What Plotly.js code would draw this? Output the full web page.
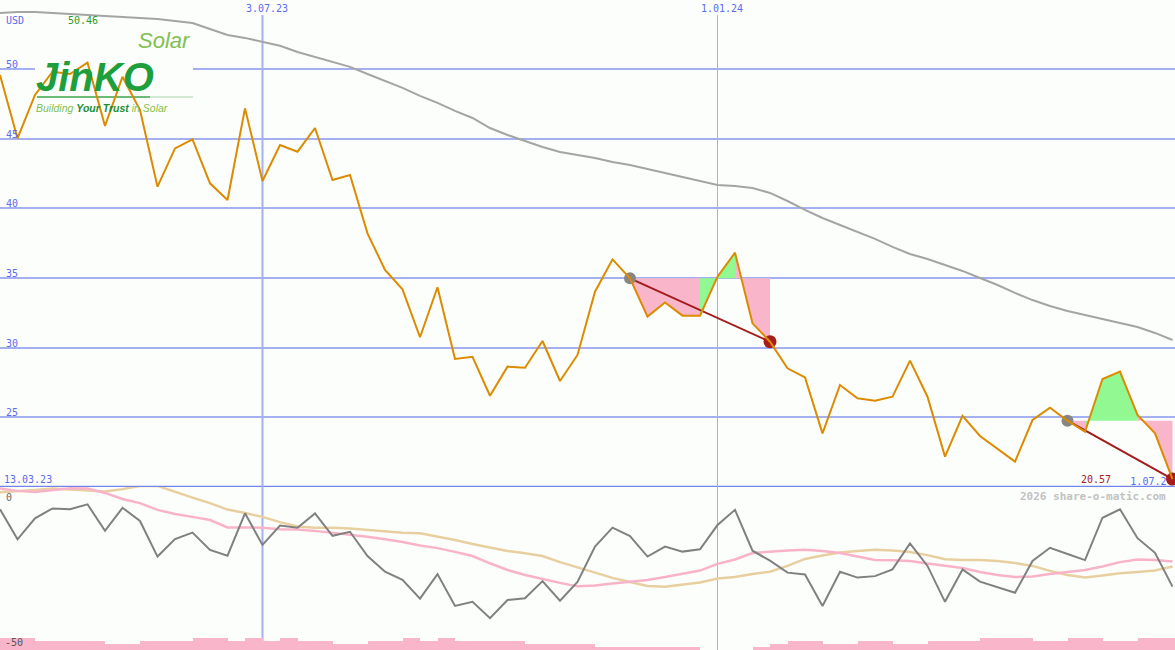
<!DOCTYPE html>
<html><head><meta charset="utf-8">
<script src="https://cdn.plot.ly/plotly-3.0.1.min.js"></script>
<style>html,body{margin:0;padding:0;background:#fcfefc;overflow:hidden}#chart{width:1175px;height:650px}</style>
</head><body><div id="chart"></div>
<script>
// ---------- data ----------
const dates = ['2023-03-20','2023-03-27','2023-04-03','2023-04-10','2023-04-17','2023-04-24','2023-05-01','2023-05-08','2023-05-15','2023-05-22',
'2023-05-29','2023-06-05','2023-06-12','2023-06-19','2023-06-26','2023-07-03','2023-07-10','2023-07-17','2023-07-24','2023-07-31',
'2023-08-07','2023-08-14','2023-08-21','2023-08-28','2023-09-04','2023-09-11','2023-09-18','2023-09-25','2023-10-02','2023-10-09',
'2023-10-16','2023-10-23','2023-10-30','2023-11-06','2023-11-13','2023-11-20','2023-11-27','2023-12-04','2023-12-11','2023-12-18',
'2023-12-25','2024-01-01','2024-01-08','2024-01-15','2024-01-22','2024-01-29','2024-02-05','2024-02-12','2024-02-19','2024-02-26',
'2024-03-04','2024-03-11','2024-03-18','2024-03-25','2024-04-01','2024-04-08','2024-04-15','2024-04-22','2024-04-29','2024-05-06',
'2024-05-13','2024-05-20','2024-05-27','2024-06-03','2024-06-10','2024-06-17','2024-06-24','2024-07-01'];
const price = [49.58,45.03,48.14,49.81,49.65,50.46,45.92,49.45,47.06,41.56,
44.31,44.95,41.80,40.60,47.18,41.97,44.55,44.07,45.77,42.04,
42.40,38.21,35.58,34.19,30.75,34.34,29.19,29.35,26.55,28.64,
28.56,30.48,27.61,29.48,34.02,36.34,34.98,32.23,33.24,32.30,
32.30,35.10,36.82,31.75,30.43,28.52,27.87,23.85,27.32,26.37,
26.19,26.48,29.07,26.48,22.18,25.10,23.66,22.72,21.82,24.81,
25.69,24.76,23.97,27.75,28.28,25.17,23.85,20.57];
const movingAvg = [54.03,54.10,54.10,54.03,53.96,53.89,53.85,53.78,53.71,53.60,
53.46,53.31,52.88,52.45,52.24,51.95,51.67,51.23,50.88,50.52,
50.16,49.65,49.15,48.65,48.08,47.57,47.00,46.49,45.77,45.27,
44.84,44.41,44.05,43.83,43.62,43.33,43.12,42.83,42.54,42.25,
41.97,41.68,41.61,41.47,41.11,40.53,39.89,39.31,38.81,38.31,
37.81,37.24,36.73,36.37,35.94,35.51,35.00,34.50,33.93,33.42,
32.99,32.63,32.35,32.06,31.77,31.49,31.06,30.55];
const oscillator = [-6.6,-16.9,-9.7,-6.3,-6.6,-4.9,-14.0,-6.1,-10.6,-22.8,
-16.8,-14.6,-20.5,-22.5,-8.0,-18.8,-12.2,-12.9,-8.0,-15.7,
-14.3,-22.6,-28.0,-30.8,-37.2,-28.8,-39.7,-38.3,-43.9,-37.7,
-37.1,-31.2,-37.9,-31.5,-19.4,-12.9,-15.8,-22.8,-19.4,-21.1,
-20.3,-12.0,-6.8,-20.8,-24.2,-28.3,-28.9,-39.7,-28.0,-30.0,
-29.5,-27.2,-18.3,-26.0,-38.3,-27.2,-31.4,-33.3,-35.2,-24.3,
-19.8,-21.9,-24.0,-9.5,-6.6,-16.5,-21.5,-33.1];
const oscFast = [0.5,-0.3,-0.7,0,0.6,0.5,-1.0,-3.1,-4.5,-6.8,
-8.2,-9.2,-10.3,-12.8,-12.9,-12.9,-13.4,-13.5,-14.0,-14.6,
-15.2,-16.0,-16.9,-17.8,-19.0,-19.9,-21.2,-22.6,-25.1,-27.4,
-29.1,-30.5,-31.8,-33.0,-32.7,-32.0,-31.5,-30.8,-29.8,-28.6,
-27.6,-25.3,-23.8,-21.6,-21.1,-20.7,-20.5,-20.9,-21.6,-22.9,
-24.0,-24.1,-24.3,-25.2,-26.0,-26.7,-28.1,-29.1,-29.8,-29.6,
-28.8,-28.1,-27.4,-26.2,-24.7,-23.8,-24.0,-24.5];
const oscSlow = [-0.8,-0.5,0,0.5,0.2,-0.3,-0.5,0.3,1.4,1.4,
-0.7,-2.6,-4.5,-6.7,-7.9,-9.2,-11.0,-12.5,-12.9,-12.9,
-13.2,-13.7,-14.2,-14.6,-14.8,-15.9,-17.1,-18.5,-19.7,-20.9,
-21.7,-22.6,-24.7,-26.5,-28.1,-30.1,-31.5,-32.9,-33.1,-32.5,
-31.7,-30.3,-29.8,-28.8,-28.0,-26.0,-23.6,-22.4,-21.4,-20.9,
-20.5,-20.7,-21.2,-22.3,-23.7,-24.0,-24.0,-24.3,-25.0,-26.0,
-27.7,-29.1,-30.0,-29.3,-28.5,-28.1,-27.6,-26.2];
const volume = [4,4,3,3,3,3,2,2,3,3,
3,4,4,3,4,3,4,3,3,2,
2,3,3,4,3,4,3,3,3,3,
2,2,2,2,1,1,1,1,1,1,
0,0,0,1,2,3,3,2,2,3,
3,2,2,3,3,3,4,4,4,3,
3,4,4,3,3,4,4,4];
const signalStart = ['2023-11-27','2024-05-20'];
const signalEnd = ['2024-01-22','2024-07-01'];
const gridTicks = [25,30,35,40,45,50];
const monthMarks = ['2023-07-03','2024-01-01'];
const startLabel = '13.03.23';
const currency = 'USD';
const lowerTicks = [0,-50];

// ---------- geometry helpers (positions/styles only) ----------
const W = 1175, H = 650, SPLIT = 487;
const X_START = Date.UTC(2023,2,20), PX_PER_DAY = 2.5;
const Y_MIN = 20, Y_MAX = 54.96;
const pxToDate = px => new Date(X_START + px/PX_PER_DAY*86400000).toISOString().slice(0,19).replace('T',' ');
const pyToPrice = py => Y_MAX - py*(Y_MAX-Y_MIN)/SPLIT;
const fmtDate = s => { const [y,m,d] = s.split('-'); return (+d)+'.'+m+'.'+y.slice(2); };
const MONO = 'DejaVu Sans Mono, monospace';
const BLUE = '#5b6bef';

const traces = [];

// signal fills
signalStart.forEach((sd, si) => {
  const s = dates.indexOf(sd), e = dates.indexOf(signalEnd[si]);
  const ref = price[s];
  const polys = {pink:{x:[],y:[]}, green:{x:[],y:[]}};
  let k = s;
  while (k < e) {
    const col = price[k+1] > ref ? 'green' : 'pink';
    let j = k;
    while (j < e && ((price[j+1] > ref ? 'green' : 'pink') === col)) j++;
    const P = polys[col];
    P.x.push(dates[k]); P.y.push(ref);
    for (let q = k; q <= j; q++) { P.x.push(dates[q]); P.y.push(price[q]); }
    P.x.push(dates[j], null); P.y.push(ref, null);
    k = j;
  }
  [['pink','#f9b5c9'],['green','#92f892']].forEach(([c, fc]) => {
    if (!polys[c].x.length) return;
    traces.push({type:'scatter', mode:'lines', x:polys[c].x, y:polys[c].y, fill:'toself',
      fillcolor:fc, line:{width:0}, hoverinfo:'skip', connectgaps:false});
  });
});

// long moving average
traces.push({type:'scatter', mode:'lines', x:dates, y:movingAvg, line:{color:'#a4a4a4', width:2}, hoverinfo:'skip'});

// end-date label (under the end dot)
const lastIdx = dates.length-1;
traces.push({type:'scatter', mode:'text', x:[dates[lastIdx]], y:[Y_MIN], text:[fmtDate(dates[lastIdx])],
  textposition:'top left', textfont:{family:MONO, size:10, color:BLUE}, cliponaxis:false, hoverinfo:'skip'});

// signal trend lines and dots
signalStart.forEach((sd, si) => {
  const s = dates.indexOf(sd), e = dates.indexOf(signalEnd[si]);
  traces.push({type:'scatter', mode:'lines', x:[dates[s], dates[e]], y:[price[s], price[e]],
    line:{color:'#a31c1c', width:2}, hoverinfo:'skip'});
  traces.push({type:'scatter', mode:'markers', x:[dates[s]], y:[price[s]],
    marker:{color:'#868686', size:12}, hoverinfo:'skip', cliponaxis:false});
  traces.push({type:'scatter', mode:'markers', x:[dates[e]], y:[price[e]],
    marker:{color:'#a81c1c', size:13}, hoverinfo:'skip', cliponaxis:false});
});

// price line
traces.push({type:'scatter', mode:'lines', x:dates, y:price, line:{color:'#dc8b00', width:2}, hoverinfo:'skip'});

// lower panel
traces.push({type:'scatter', mode:'lines', x:dates, y:oscSlow, yaxis:'y2', line:{color:'#e8cf9f', width:2.5}, hoverinfo:'skip'});
traces.push({type:'scatter', mode:'lines', x:dates, y:oscFast, yaxis:'y2', line:{color:'#f9b3c8', width:2.5}, hoverinfo:'skip'});
traces.push({type:'scatter', mode:'lines', x:dates, y:oscillator, yaxis:'y2', line:{color:'#808080', width:2}, hoverinfo:'skip'});
traces.push({type:'bar', x:dates, y:volume, yaxis:'y3', width:7*86400000, offset:0,
  marker:{color:'#f9b5c9', line:{width:0}}, hoverinfo:'skip'});

// ---------- annotations ----------
const ann = [];
const A = (text, xpx, ypx, color, size, xanchor, extra) => ann.push(Object.assign({
  xref:'paper', yref:'paper', x:xpx/W, y:1-ypx/H, text, showarrow:false, xanchor:xanchor||'left', yanchor:'middle',
  font:{family:MONO, size:size||10, color}}, extra||{}));

gridTicks.forEach(v => ann.push({xref:'paper', yref:'y', x:4/W, y:v, text:String(v), showarrow:false,
  xanchor:'left', yanchor:'bottom', yshift:-3, font:{family:MONO, size:10, color:BLUE}}));
A(currency, 4, 21, BLUE, 10);
const maxIdx = price.indexOf(Math.max(...price));
ann.push({xref:'x', yref:'paper', x:dates[maxIdx], y:1-21/H, text:price[maxIdx].toFixed(2), showarrow:false,
  xanchor:'center', yanchor:'middle', xshift:-5, font:{family:MONO, size:10, color:'#2a9a2a'}});
monthMarks.forEach(d => ann.push({xref:'x', yref:'paper', x:d, y:1-9/H, text:fmtDate(d), showarrow:false,
  xanchor:'center', yanchor:'middle', xshift:4, font:{family:MONO, size:10, color:BLUE}}));
A(startLabel, 2, 479, BLUE, 10);
A(price[lastIdx].toFixed(2), 1113, 479, '#a82020', 10, 'right');
A('2026 share-o-matic.com', 1168, 496, '#c2c2c2', 11, 'right', {font:{family:MONO, size:11, color:'#c2c2c2', weight:'bold'}});
A(String(lowerTicks[0]), 4, 497, '#666', 10);
A(String(lowerTicks[1]), 3, 642, '#555', 10);

// logo
A('JinKO', 35, 77, '#1f9f3b', 40, 'left', {borderpad:0, font:{family:'Liberation Sans, Arial, sans-serif', size:40, color:'#1f9f3b', weight:'bold', style:'italic'}});
A('Solar', 137, 40, '#80c050', 22, 'left', {borderpad:0, font:{family:'Liberation Sans, Arial, sans-serif', size:22, color:'#80c050', style:'italic'}});
A('<span style="color:#7fbf50">Building </span><b>Your Trust</b><span style="color:#7fbf50"> in Solar</span>', 35, 108, '#1a8f36', 10.5, 'left',
  {borderpad:0, font:{family:'Liberation Sans, Arial, sans-serif', size:10.5, color:'#1a8f36', style:'italic'}});

// ---------- shapes ----------
const shapes = [];
shapes.push({type:'line', xref:'paper', yref:'y', x0:0, x1:1, y0:Y_MIN, y1:Y_MIN, line:{color:'#7384ea', width:2.5}, layer:'below'});
const markWidths = [2, 1];
monthMarks.forEach((d, i) => shapes.push({type:'line', xref:'x', yref:'paper', x0:d, x1:d, y0:0, y1:1-15/H,
  line:{color:'#a4b0f0', width:markWidths[i]}, layer:'below'}));
shapes.push({type:'rect', xref:'x', yref:'y', x0:pxToDate(35), x1:pxToDate(193), y0:pyToPrice(115), y1:pyToPrice(32),
  fillcolor:'#fcfefc', line:{width:0}, layer:'between'});
shapes.push({type:'line', xref:'x', yref:'y', x0:pxToDate(37), x1:pxToDate(150), y0:pyToPrice(97), y1:pyToPrice(97),
  line:{color:'#3aa54a', width:1.5}, layer:'between'});
shapes.push({type:'line', xref:'x', yref:'y', x0:pxToDate(150), x1:pxToDate(193), y0:pyToPrice(97), y1:pyToPrice(97),
  line:{color:'#c4e2c4', width:1.5}, layer:'between'});

const layout = {
  width:W, height:H, margin:{l:0,r:0,t:0,b:0,pad:0},
  paper_bgcolor:'#fcfefc', plot_bgcolor:'#fcfefc', showlegend:false, bargap:0,
  xaxis:{type:'date', range:[pxToDate(0), pxToDate(W)], domain:[0,1], showgrid:false, showticklabels:false,
    zeroline:false, showline:false, ticks:'', fixedrange:true},
  yaxis:{domain:[(H-SPLIT)/H,1], range:[Y_MIN,Y_MAX], tickvals:gridTicks, showticklabels:false, showgrid:true,
    gridcolor:'#a4b0f0', gridwidth:2, zeroline:false, showline:false, ticks:'', fixedrange:true},
  yaxis2:{domain:[0,(H-SPLIT)/H], range:[(490-H)/2.92, (490-SPLIT)/2.92], showgrid:false, showticklabels:false,
    zeroline:false, showline:false, ticks:'', fixedrange:true},
  yaxis3:{overlaying:'y2', range:[0,(H-SPLIT)/3], showgrid:false, showticklabels:false, zeroline:false,
    showline:false, ticks:'', fixedrange:true},
  annotations:ann, shapes:shapes
};
Plotly.newPlot('chart', traces, layout, {staticPlot:true, displayModeBar:false});
</script></body></html>
